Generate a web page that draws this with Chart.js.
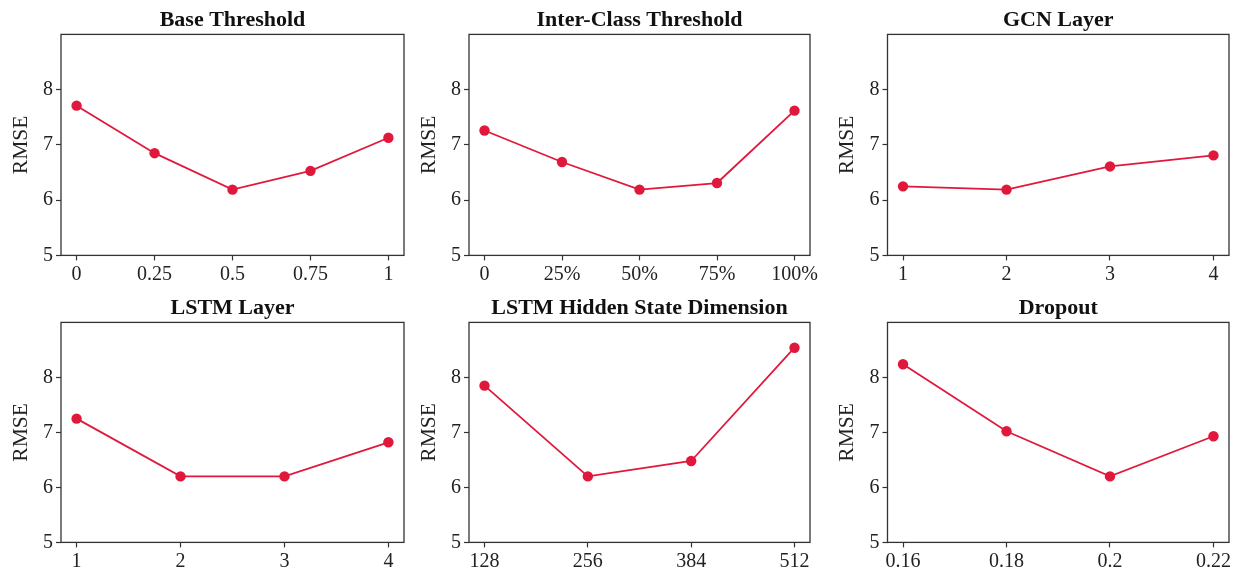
<!DOCTYPE html>
<html><head><meta charset="utf-8">
<script src="https://cdn.jsdelivr.net/npm/chart.js@4.4.1/dist/chart.umd.min.js"></script>
<style>
html,body{margin:0;padding:0;background:#fff;width:1240px;height:574px;overflow:hidden;position:relative}
.p{position:absolute}
</style></head><body>
<script>
// ---- data ----
const titles = ['Base Threshold','Inter-Class Threshold','GCN Layer','LSTM Layer','LSTM Hidden State Dimension','Dropout'];
const baseThresholdLabels = ['0','0.25','0.5','0.75','1'];
const baseThresholdRMSE = [7.71, 6.85, 6.19, 6.53, 7.13];
const interClassLabels = ['0','25%','50%','75%','100%'];
const interClassRMSE = [7.26, 6.69, 6.19, 6.31, 7.62];
const gcnLayerLabels = ['1','2','3','4'];
const gcnLayerRMSE = [6.25, 6.19, 6.61, 6.81];
const lstmLayerLabels = ['1','2','3','4'];
const lstmLayerRMSE = [7.25, 6.20, 6.20, 6.82];
const hiddenDimLabels = ['128','256','384','512'];
const hiddenDimRMSE = [7.85, 6.20, 6.48, 8.54];
const dropoutLabels = ['0.16','0.18','0.2','0.22'];
const dropoutRMSE = [8.24, 7.02, 6.20, 6.93];
const yTicks = [5, 6, 7, 8];
const yMin = 5, yMax = 9;
const yLabel = 'RMSE';

const panelLabels = [baseThresholdLabels, interClassLabels, gcnLayerLabels, lstmLayerLabels, hiddenDimLabels, dropoutLabels];
const panelValues = [baseThresholdRMSE, interClassRMSE, gcnLayerRMSE, lstmLayerRMSE, hiddenDimRMSE, dropoutRMSE];

// ---- layout (styles, not data) ----
const colLeft = [0, 408, 826];
const colYW = [61, 61, 61.5];
const colPlotW = [343, 341, 341.5];
const rowTop = [0, 288];
const rowH = [288, 286];
const rowPlotH = [221, 220];
const titleSize = 22;
const titlePad = {top: 7.5, bottom: 0.5};
const titleH = titlePad.top + titleSize * 1.2 + titlePad.bottom;
const rightPad = 12;
const RED = '#E0193C';
const FRAME = '#333333';
const SERIF = "'Liberation Serif', 'Times New Roman', serif";

const framePlugin = {
  id: 'frame',
  afterDraw(chart) {
    const {ctx, chartArea: a} = chart;
    ctx.save();
    ctx.strokeStyle = FRAME;
    ctx.lineWidth = 1.3;
    ctx.strokeRect(a.left, a.top, a.right - a.left, a.bottom - a.top);
    ctx.restore();
  }
};

panelLabels.forEach((labels, k) => {
  const r = Math.floor(k / 3), c = k % 3;
  const vals = panelValues[k];
  const n = labels.length;
  const w = Math.round(colYW[c] + colPlotW[c] + rightPad);
  const h = rowH[r];
  const xh = h - titleH - rowPlotH[r];
  const div = document.createElement('div');
  div.className = 'p';
  div.style.left = colLeft[c] + 'px';
  div.style.top = rowTop[r] + 'px';
  div.style.width = w + 'px';
  div.style.height = h + 'px';
  const cv = document.createElement('canvas');
  cv.width = w; cv.height = h;
  div.appendChild(cv);
  document.body.appendChild(div);

  const tickFont = {family: SERIF, size: 20};
  const gridOpts = {display: true, drawOnChartArea: false, drawTicks: true, tickLength: 5, tickColor: FRAME, tickWidth: 1.2};

  new Chart(cv, {
    type: 'line',
    data: {
      datasets: [{
        data: labels.map((_, i) => ({x: i, y: vals[i]})),
        borderColor: RED,
        backgroundColor: RED,
        borderWidth: 1.8,
        pointRadius: 5.2,
        pointBackgroundColor: RED,
        pointBorderColor: RED,
        pointBorderWidth: 0,
        tension: 0,
        clip: false
      }]
    },
    options: {
      responsive: false,
      animation: false,
      layout: {padding: {left: 0, right: rightPad, top: 0, bottom: 0}},
      plugins: {
        legend: {display: false},
        tooltip: {enabled: false},
        title: {
          display: true, text: titles[k], fullSize: false,
          color: '#111',
          font: {family: SERIF, size: titleSize, weight: 'bold', lineHeight: 1.2},
          padding: titlePad
        }
      },
      scales: {
        x: {
          type: 'linear',
          min: -0.05 * (n - 1),
          max: (n - 1) * 1.05,
          afterBuildTicks: s => { s.ticks = labels.map((_, i) => ({value: i})); },
          afterFit: s => { s.height = xh; s.paddingLeft = 0; s.paddingRight = 0; },
          grid: gridOpts,
          border: {display: false},
          ticks: {
            callback: v => labels[Math.round(v)],
            font: tickFont, color: '#222', padding: 2,
            maxRotation: 0, autoSkip: false
          }
        },
        y: {
          type: 'linear',
          min: yMin, max: yMax,
          afterBuildTicks: s => { s.ticks = yTicks.map(v => ({value: v})); },
          afterFit: s => { s.width = colYW[c]; s.paddingTop = 0; s.paddingBottom = 0; },
          grid: gridOpts,
          border: {display: false},
          ticks: {font: tickFont, color: '#222', padding: 3},
          title: {
            display: true, text: yLabel, color: '#222',
            font: {family: SERIF, size: 21.5, lineHeight: 1.2},
            padding: {top: 8, bottom: 0}
          }
        }
      }
    },
    plugins: [framePlugin]
  });
});
</script>
</body></html>
